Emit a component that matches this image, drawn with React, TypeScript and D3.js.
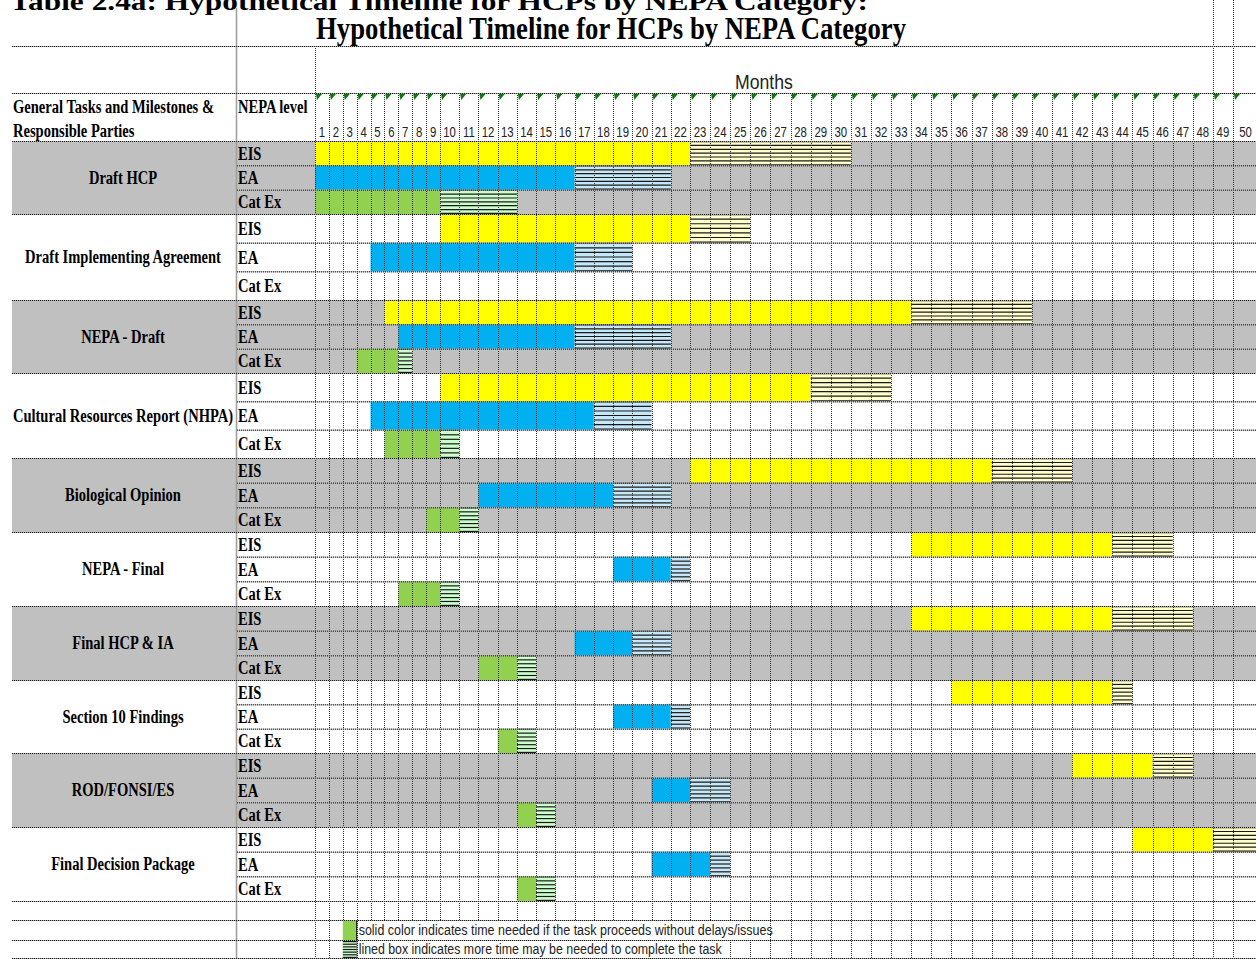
import React from 'react';
import * as d3 from 'd3';

// task rows (left column) and NEPA levels
const tasks = [
  'Draft HCP',
  'Draft Implementing Agreement',
  'NEPA - Draft',
  'Cultural Resources Report (NHPA)',
  'Biological Opinion',
  'NEPA - Final',
  'Final HCP & IA',
  'Section 10 Findings',
  'ROD/FONSI/ES',
  'Final Decision Package',
];
const levels = ['EIS', 'EA', 'Cat Ex'];
const monthLabels = [
  1, 2, 3, 4, 5, 6, 7, 8, 9, 10, 11, 12, 13, 14, 15, 16, 17, 18, 19, 20, 21, 22, 23, 24, 25,
  26, 27, 28, 29, 30, 31, 32, 33, 34, 35, 36, 37, 38, 39, 40, 41, 42, 43, 44, 45, 46, 47, 48, 49, 50,
];

// month where the task begins, last month of the solid part, last month of the lined part
const eisStart = [1, 10, 6, 10, 23, 34, 34, 36, 42, 45];
const eisSolidEnd = [22, 22, 33, 28, 37, 43, 43, 43, 45, 48];
const eisLinedEnd = [30, 25, 39, 32, 41, 46, 47, 44, 47, 50];
const eaStart = [1, 5, 7, 5, 12, 19, 17, 19, 21, 21];
const eaSolidEnd = [16, 16, 16, 17, 18, 21, 19, 21, 22, 23];
const eaLinedEnd = [21, 19, 21, 20, 21, 22, 21, 22, 24, 24];
const catExStart = [1, null, 4, 6, 9, 7, 12, 13, 14, 14];
const catExSolidEnd = [9, null, 6, 9, 10, 9, 13, 13, 14, 14];
const catExLinedEnd = [13, null, 7, 10, 11, 10, 14, 14, 15, 15];

const legendSolid = 'solid color indicates time needed if the task proceeds without delays/issues';
const legendLined = 'lined box indicates more time may be needed to complete the task';

const W = 1256;
const H = 959;
const SERIF = '"Liberation Serif", "Times New Roman", serif';
const SANS = '"Liberation Sans", Arial, sans-serif';

const colors: Record<string, { solid: string; lined: string }> = {
  EIS: { solid: '#ffff00', lined: '#ffffcc' },
  EA: { solid: '#00b0f0', lined: '#c6e7f8' },
  'Cat Ex': { solid: '#92d050', lined: '#ccffcc' },
};

// group top edges (rows 2 and 4 are taller in the sheet)
const groupTops = [141, 214, 300, 373, 458, 532, 606, 680, 753, 827, 901];
const legendRows = [901, 920, 940, 958];

const App: React.FC = () => {
  // month columns: first nine are narrow, 10-22 medium, rest wide
  const x = d3.scaleLinear().domain([1, 10, 23, 50, 51]).range([315, 440, 690, 1233, 1258]);

  const spans = [
    { s: eisStart, e: eisSolidEnd, l: eisLinedEnd },
    { s: eaStart, e: eaSolidEnd, l: eaLinedEnd },
    { s: catExStart, e: catExSolidEnd, l: catExLinedEnd },
  ];

  const rows = tasks.flatMap((t, g) => {
    const top = groupTops[g];
    const h = (groupTops[g + 1] - top) / 3;
    return levels.map((lv, i) => ({
      g,
      level: lv,
      y: top + i * h,
      h,
      start: spans[i].s[g],
      solidEnd: spans[i].e[g],
      linedEnd: spans[i].l[g],
    }));
  });

  const cx = (m: number) => (x(m) + x(m + 1)) / 2;

  const hatch = (x0: number, x1: number, y: number, h: number, fill: string, key: string) => (
    <g key={key}>
      <rect x={x0} y={y} width={x1 - x0} height={h} fill={fill} />
      {d3.range(7).map((k) => {
        const yy = y + 0.6 + (k * (h - 1.2)) / 6;
        return <line key={k} x1={x0} x2={x1} y1={yy} y2={yy} stroke="#1a1a1a" strokeWidth={1.2} />;
      })}
    </g>
  );

  const hLine = (y: number, x0: number, key: string) => (
    <g key={key}>
      <line x1={x0} x2={W} y1={y + 0.5} y2={y + 0.5} stroke="#a8a8a8" strokeWidth={1} />
      <line x1={x0} x2={W} y1={y + 0.5} y2={y + 0.5} stroke="#1e1e1e" strokeWidth={1} strokeDasharray="1,1" />
    </g>
  );

  return (
    <svg width={W} height={H} style={{ position: 'absolute', left: 0, top: 0, background: '#fff' }}>
      {/* titles */}
      <text x={10} y={10} fontFamily={SERIF} fontWeight="bold" fontSize={26} textLength={858} lengthAdjust="spacingAndGlyphs">
        Table 2.4a: Hypothetical Timeline for HCPs by NEPA Category:
      </text>
      <text x={316} y={39} fontFamily={SERIF} fontWeight="bold" fontSize={31} textLength={590} lengthAdjust="spacingAndGlyphs">
        Hypothetical Timeline for HCPs by NEPA Category
      </text>

      {/* shaded groups */}
      {tasks.map((t, g) =>
        g % 2 === 0 ? (
          <rect key={t} x={12} y={groupTops[g]} width={W - 12} height={groupTops[g + 1] - groupTops[g]} fill="#c0c0c0" />
        ) : null
      )}

      {/* bars */}
      {rows.map((r, i) => {
        if (r.start == null) return null;
        const c = colors[r.level];
        const xs0 = x(r.start);
        const xs1 = x(r.solidEnd + 1);
        const xl1 = Math.min(x(r.linedEnd + 1), W);
        return (
          <g key={'b' + i}>
            <rect x={xs0} y={r.y} width={xs1 - xs0} height={r.h} fill={c.solid} />
            {r.linedEnd > r.solidEnd ? hatch(xs1, xl1, r.y, r.h, c.lined, 'h' + i) : null}
          </g>
        );
      })}

      {/* legend backgrounds over the grid */}
      <rect x={x(4) + 1} y={legendRows[1] + 1} width={418} height={legendRows[2] - legendRows[1] - 1} fill="#fff" />
      <rect x={x(4) + 1} y={legendRows[2] + 1} width={366} height={legendRows[3] - legendRows[2] - 1} fill="#fff" />

      {/* vertical grid */}
      {monthLabels.map((m) => {
        const top = m === 1 ? 46 : m >= 49 ? 0 : 93;
        const xx = Math.round(x(m)) + 0.5;
        const inLegend = m >= 5 && m <= 26;
        const segs = inLegend
          ? [
              [top, legendRows[1]],
              ...(x(m) > x(4) + 368 ? [[legendRows[2], H]] : []),
            ]
          : [[top, H]];
        return segs.map((s, k) => (
          <line key={'v' + m + '-' + k} x1={xx} x2={xx} y1={s[0]} y2={s[1]} stroke="#333" strokeWidth={1} strokeDasharray="1,1" />
        ));
      })}
      <line x1={236.5} x2={236.5} y1={8} y2={H} stroke="#a0a0a0" strokeWidth={1.6} />

      {/* horizontal grid */}
      {hLine(46, 12, 'h46')}
      {hLine(93, 12, 'h93')}
      {rows.map((r, i) => (i % 3 === 0 ? hLine(r.y, 12, 'rg' + i) : hLine(r.y, 237, 'rr' + i)))}
      {legendRows.map((y, i) => hLine(y, 12, 'lg' + i))}

      {/* legend swatches */}
      <rect x={x(3)} y={legendRows[1] + 1} width={x(4) - x(3)} height={legendRows[2] - legendRows[1] - 1} fill={colors['Cat Ex'].solid} />
      <line x1={x(4)} x2={x(4)} y1={legendRows[1]} y2={legendRows[3]} stroke="#222" strokeWidth={1.2} />
      {hatch(x(3), x(4), legendRows[2] + 1, legendRows[3] - legendRows[2] - 1, colors['Cat Ex'].lined, 'lh')}
      <text x={x(4) + 2} y={legendRows[1] + 14.5} fontFamily={SANS} fontSize={14} textLength={414} lengthAdjust="spacingAndGlyphs" fill="#222">
        {legendSolid}
      </text>
      <text x={x(4) + 2} y={legendRows[2] + 14} fontFamily={SANS} fontSize={14} textLength={363} lengthAdjust="spacingAndGlyphs" fill="#222">
        {legendLined}
      </text>

      {/* green markers in header cells */}
      {monthLabels.map((m) => {
        const xx = x(m) + 1;
        return <polygon key={'t' + m} points={`${xx},94 ${xx + 6},94 ${xx + 1},100`} fill="#0a7a0a" />;
      })}

      {/* header texts */}
      <text transform={`translate(${(x(1) + x(49)) / 2},89) scale(0.84,1)`} textAnchor="middle" fontFamily={SANS} fontSize={21} fill="#222">
        Months
      </text>
      {monthLabels.map((m) => (
        <text key={'m' + m} transform={`translate(${cx(m)},137) scale(0.76,1)`} textAnchor="middle" fontFamily={SANS} fontSize={15} fill="#222">
          {m}
        </text>
      ))}
      <text transform="translate(13,113) scale(0.765,1)" fontFamily={SERIF} fontWeight="bold" fontSize={19}>
        General Tasks and Milestones &amp;
      </text>
      <text transform="translate(13,137) scale(0.765,1)" fontFamily={SERIF} fontWeight="bold" fontSize={19}>
        Responsible Parties
      </text>
      <text transform="translate(238,113) scale(0.765,1)" fontFamily={SERIF} fontWeight="bold" fontSize={19}>
        NEPA level
      </text>

      {/* task labels */}
      {tasks.map((t, g) => (
        <text
          key={'tl' + g}
          transform={`translate(123,${(groupTops[g] + groupTops[g + 1]) / 2 + 6}) scale(0.765,1)`}
          textAnchor="middle"
          fontFamily={SERIF}
          fontWeight="bold"
          fontSize={19}
        >
          {t}
        </text>
      ))}
      {rows.map((r, i) => (
        <text key={'lv' + i} transform={`translate(238,${r.y + r.h / 2 + 6.5}) scale(0.765,1)`} fontFamily={SERIF} fontWeight="bold" fontSize={19}>
          {r.level}
        </text>
      ))}
    </svg>
  );
};

export default App;
